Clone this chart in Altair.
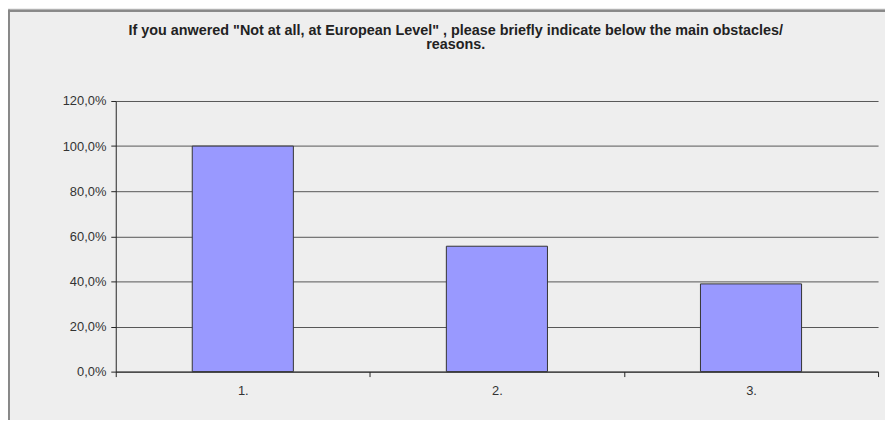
import altair as alt
import pandas as pd

categories = ["1.", "2.", "3."]
values = [100.0, 55.6, 38.9]
y_ticks = [0, 20, 40, 60, 80, 100, 120]
title_lines = ['If you anwered "Not at all, at European Level" , please briefly indicate below the main obstacles/', "reasons."]

df = pd.DataFrame({"cat": categories, "val": values})
tdf = pd.DataFrame({"line": title_lines, "i": [0, 1]})

W, H = 769, 273

bars = alt.Chart(df).mark_bar(
    color="#9999ff", stroke="#333333", strokeWidth=1, size=102
).encode(
    x=alt.X("cat:N", sort=categories, title=None,
            scale=alt.Scale(paddingInner=0, paddingOuter=0),
            axis=alt.Axis(labelAngle=0, tickBand="extent", domainColor="#222222",
                          tickColor="#222222", tickSize=5, labelPadding=8,
                          labelFont="Liberation Sans", labelFontSize=13,
                          labelColor="#333333", grid=False)),
    y=alt.Y("val:Q", title=None,
            scale=alt.Scale(domain=[0, 120], nice=False),
            axis=alt.Axis(values=y_ticks, labelExpr="replace(format(datum.value, '.1f'), '.', ',') + '%'",
                          domainColor="#222222", tickColor="#222222", tickSize=5,
                          labelPadding=5, labelFont="Liberation Sans", labelFontSize=13,
                          labelColor="#333333", gridColor="#555555", gridWidth=1,
                          gridOpacity=1)),
)

title1 = alt.Chart(tdf).mark_text(
    font="Liberation Sans", fontWeight="bold", fontSize=14.5, color="#222222",
    align="center", baseline="alphabetic"
).encode(
    x=alt.value(343),
    y=alt.value(-67),
    text="line:N",
).transform_filter("datum.i == 0")

title2 = alt.Chart(tdf).mark_text(
    font="Liberation Sans", fontWeight="bold", fontSize=14.5, color="#222222",
    align="center", baseline="alphabetic"
).encode(
    x=alt.value(343),
    y=alt.value(-52),
    text="line:N",
).transform_filter("datum.i == 1")

border_left = alt.Chart(df).mark_rule(color="#888888", strokeWidth=2).encode(
    x=alt.value(-108), y=alt.value(-92), y2=alt.value(H + 60)
)
border_top = alt.Chart(df).mark_rule(color="#888888", strokeWidth=2).encode(
    x=alt.value(-108), x2=alt.value(W + 20), y=alt.value(-91)
)

chart = alt.layer(bars, title1, title2, border_left, border_top).properties(
    width=W, height=H,
    background="#eeeeee",
    padding={"left": 108.7, "top": 92, "right": 7, "bottom": 47},
    autosize=alt.AutoSizeParams(type="none"),
).configure_view(stroke=None)

chart.save("out.html", embed_options={"renderer": "svg", "actions": False})
